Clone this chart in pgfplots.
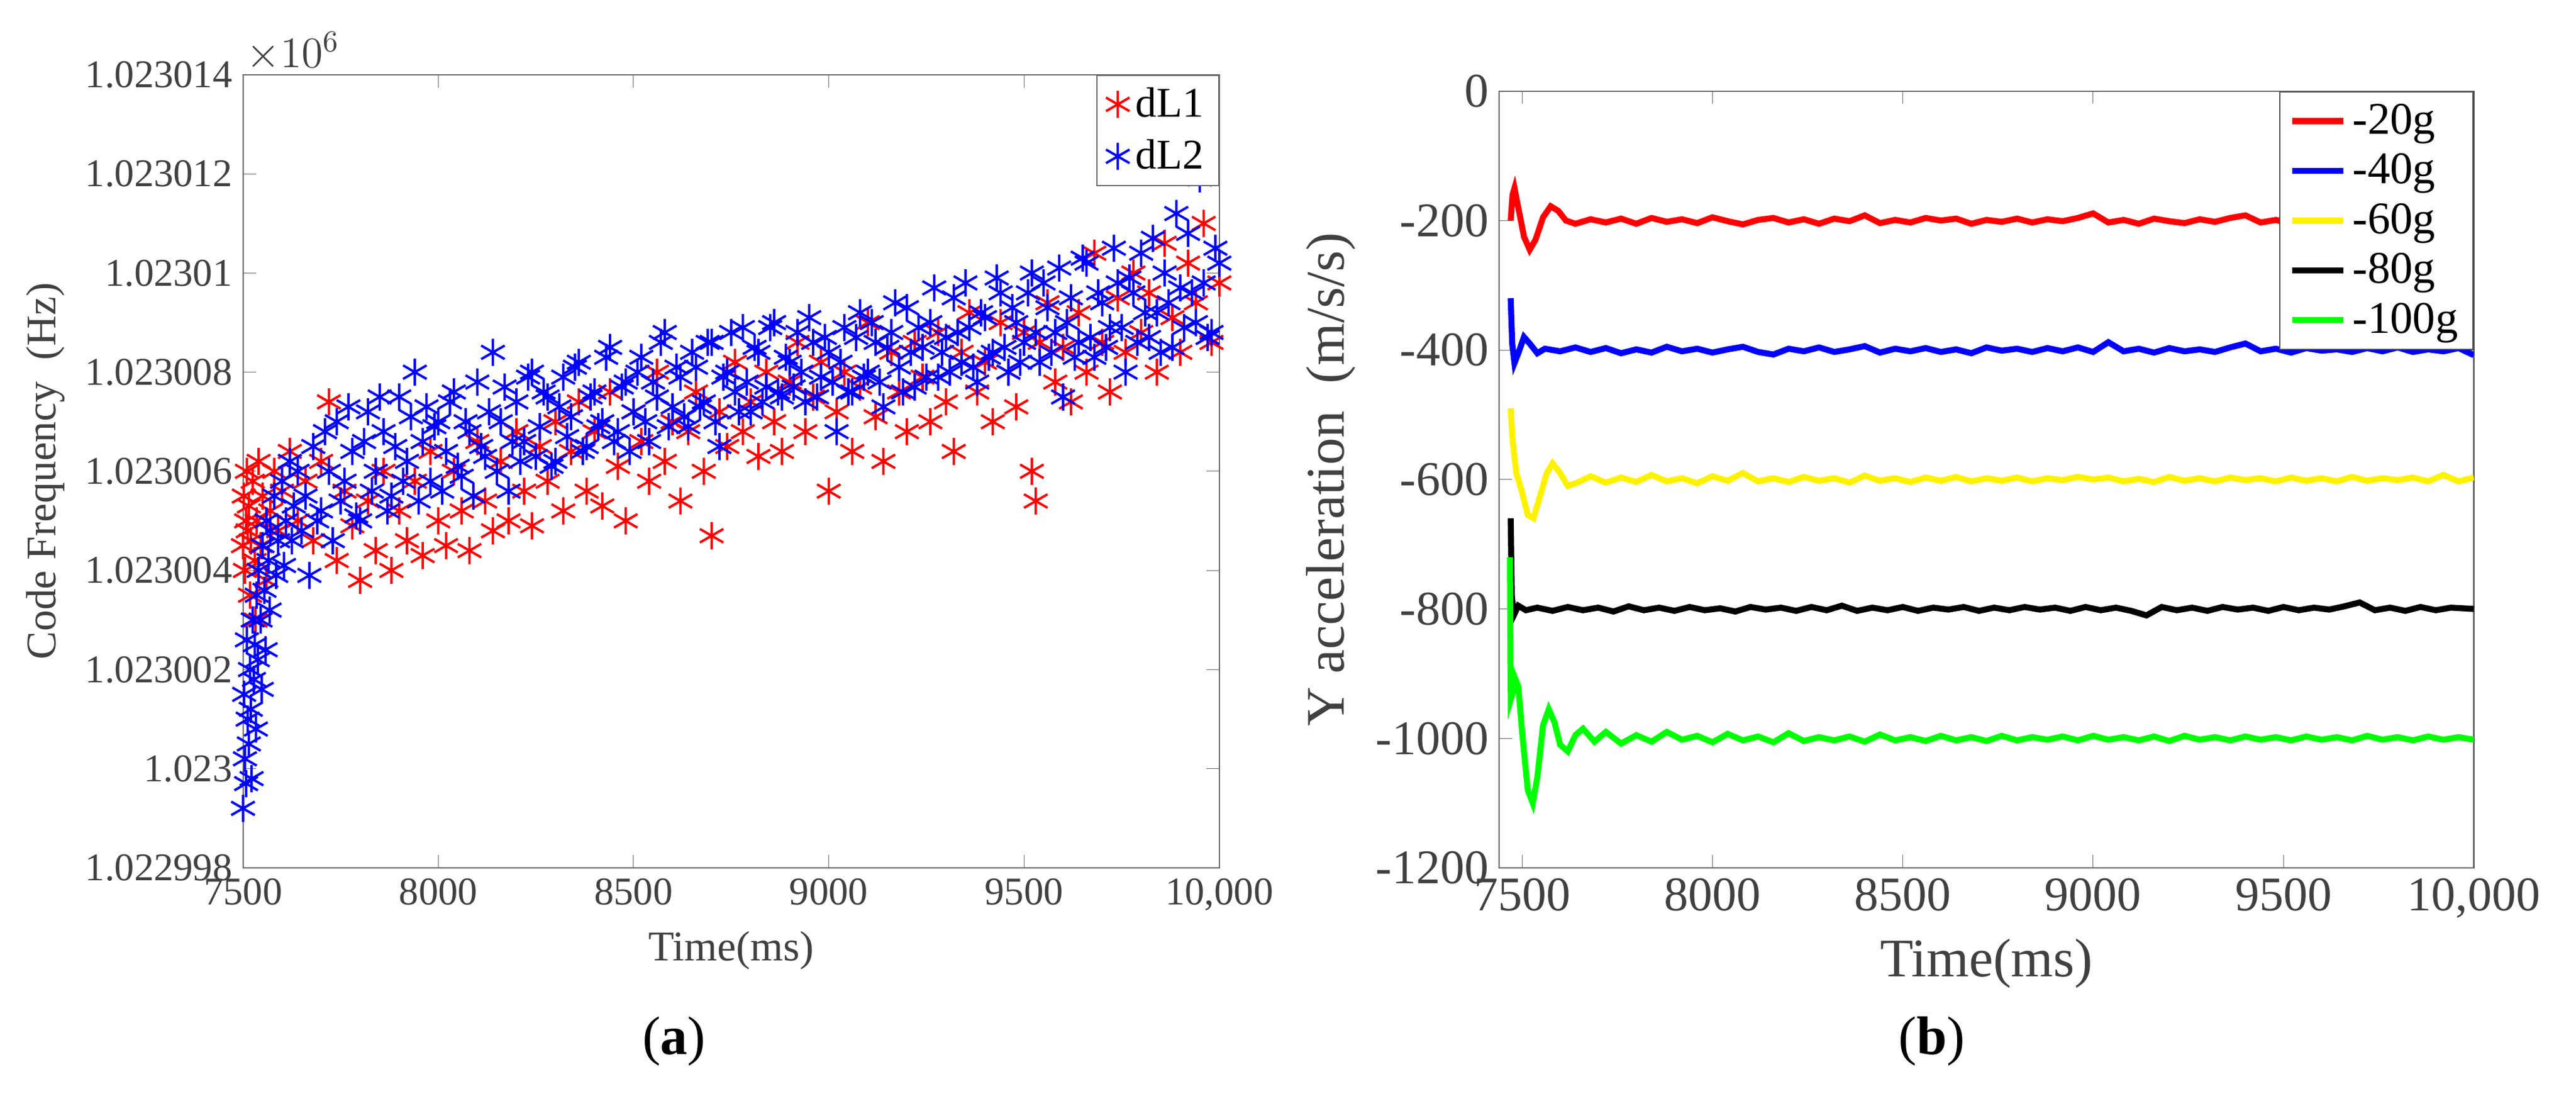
\documentclass[border=0pt]{standalone}
\usepackage{pgfplots}
\pgfplotsset{compat=1.18}
\usepackage{fontspec}
\setmainfont{Liberation Serif}
\begin{document}
\begin{tikzpicture}
\useasboundingbox (0,0) rectangle (30,12.95);
\pgfplotsset{every axis/.append style={/pgf/number format/assume math mode=true, scaled x ticks=false, scaled y ticks=false, tick align=inside, axis line style={black!60}, tick style={black!60}}}
\begin{axis}[name=A, at={(2.83cm,2.85cm)}, anchor=south west, width=11.37cm, height=9.23cm, scale only axis,
  xmin=7500, xmax=10000, ymin=-2, ymax=14,
  xtick={7500,8000,8500,9000,9500,10000}, xticklabels={7500,8000,8500,9000,9500,{10,000}},
  ytick={-2,0,2,4,6,8,10,12,14},
  yticklabels={1.022998,1.023,1.023002,1.023004,1.023006,1.023008,1.02301,1.023012,1.023014},
  ticklabel style={font=\fontsize{13}{15}\selectfont, text=black!75},
  xlabel={Time(ms)}, ylabel={Code Frequency\ \ (Hz)},
  label style={font=\fontsize{14}{16}\selectfont, text=black!75},
  legend style={at={(1,1)}, anchor=north east, font=\fontsize{14}{16}\selectfont, draw=black!60, row sep=2pt},
  legend cell align=left]
\addplot[only marks, mark=asterisk, mark size=4.5pt, red, thick] table {
7500 4.5
7502 5.5
7505 4.0
7508 5.0
7510 6.0
7512 4.8
7515 5.3
7518 3.5
7520 4.6
7525 5.8
7530 4.2
7532 3.0
7535 5.0
7540 6.2
7545 4.5
7550 5.5
7560 3.8
7570 5.2
7580 6.0
7590 4.8
7600 5.6
7620 6.4
7640 5.0
7660 5.8
7680 4.6
7700 6.2
7720 7.4
7740 4.2
7760 5.6
7780 4.9
7800 3.8
7820 5.4
7840 4.4
7860 6.0
7880 4.0
7900 5.2
7920 4.6
7940 5.8
7960 4.3
7980 6.4
8000 5.0
8020 4.5
8040 6.0
8060 5.2
8080 4.4
8100 6.6
8120 5.4
8140 4.8
8160 6.2
8180 5.0
8200 6.8
8220 5.6
8240 4.9
8260 6.5
8280 5.8
8300 7.0
8320 5.2
8340 6.4
8360 7.4
8380 5.6
8400 6.8
8420 5.3
8440 7.6
8460 6.1
8480 5.0
8500 7.2
8520 6.6
8540 5.8
8560 8.0
8580 6.2
8600 7.0
8620 5.4
8640 6.8
8660 7.6
8680 6.0
8700 4.7
8720 7.2
8740 6.5
8760 8.2
8780 6.8
8800 7.4
8820 6.3
8840 8.0
8860 7.0
8880 6.4
8900 7.8
8920 8.6
8940 6.8
8960 7.5
8980 8.2
9000 5.6
9020 7.2
9040 8.0
9060 6.4
9080 7.7
9100 9.0
9120 7.1
9140 6.2
9160 8.4
9180 7.6
9200 6.8
9220 8.6
9240 7.9
9260 7.0
9280 8.8
9300 7.4
9320 6.4
9340 8.4
9360 9.2
9380 7.6
9400 8.2
9420 7.0
9440 9.0
9460 8.0
9480 7.3
9500 8.8
9520 6.0
9530 5.4
9540 8.6
9560 9.4
9580 7.8
9600 8.5
9620 7.4
9640 9.2
9660 8.0
9680 10.4
9700 8.6
9720 7.6
9740 9.5
9760 8.4
9780 10.0
9800 8.8
9820 9.6
9840 8.0
9860 10.6
9880 9.1
9900 8.4
9920 10.2
9940 9.4
9960 11.0
9980 8.6
10000 9.8
};
\addlegendentry{dL1}
\addplot[only marks, mark=asterisk, mark size=4.5pt, blue, thick] table {
7500 -0.8
7503 1.5
7505 0.2
7508 -0.3
7510 2.6
7512 1.0
7515 0.5
7518 2.0
7520 1.2
7522 -0.2
7525 3.0
7528 1.8
7530 2.5
7533 0.8
7535 3.5
7538 2.2
7540 4.0
7545 3.0
7548 1.6
7550 4.5
7555 3.6
7558 2.4
7560 5.0
7565 4.2
7568 3.2
7570 4.8
7580 5.5
7585 3.9
7590 4.6
7600 5.8
7605 4.1
7610 5.0
7620 6.2
7625 4.6
7630 5.3
7640 6.0
7650 4.8
7660 5.5
7670 3.9
7680 6.5
7690 5.0
7700 5.2
7710 6.8
7720 6.0
7730 4.6
7740 7.0
7750 5.4
7760 5.8
7770 7.3
7780 6.4
7790 5.1
7800 5.0
7810 6.6
7820 7.2
7830 5.6
7840 6.0
7850 7.5
7860 6.8
7870 5.2
7880 5.5
7890 6.5
7900 7.5
7910 5.8
7920 6.2
7930 7.1
7940 8.0
7950 5.4
7960 6.6
7970 7.3
7980 5.8
7990 6.9
8000 7.0
8010 5.6
8020 6.4
8030 7.4
8040 7.6
8050 6.1
8060 5.9
8070 7.0
8080 6.8
8090 5.5
8100 7.8
8110 6.5
8120 6.3
8130 7.2
8140 8.4
8150 6.0
8160 7.0
8170 7.7
8180 5.6
8190 6.6
8200 7.4
8210 6.2
8220 6.6
8230 7.9
8240 8.0
8250 6.3
8260 6.9
8270 7.6
8280 7.5
8290 6.1
8300 6.2
8310 7.3
8320 7.9
8330 6.7
8340 7.1
8350 8.1
8360 8.2
8370 6.4
8380 6.5
8390 7.5
8400 7.6
8410 6.9
8420 7.0
8430 8.3
8440 8.5
8450 6.6
8460 6.8
8470 7.7
8480 7.8
8490 6.4
8500 7.2
8510 8.0
8520 8.3
8530 7.0
8540 6.6
8550 7.8
8560 7.5
8570 8.6
8580 8.8
8590 6.9
8600 7.3
8610 8.1
8620 7.9
8630 7.1
8640 6.9
8650 8.4
8660 8.1
8670 7.3
8680 7.4
8690 8.6
8700 8.6
8710 7.0
8720 6.5
8730 7.9
8740 8.0
8750 8.8
8760 7.6
8770 7.2
8780 8.9
8790 7.8
8800 7.2
8810 8.5
8820 8.4
8830 7.4
8840 7.7
8850 8.9
8860 9.0
8870 7.6
8880 7.5
8890 8.3
8900 8.2
8910 7.7
8920 8.8
8930 8.0
8940 7.4
8950 9.1
8960 8.6
8970 7.5
8980 7.9
8990 8.7
9000 8.4
9010 7.8
9020 6.8
9030 8.2
9040 8.9
9050 7.6
9060 7.6
9070 8.7
9080 9.2
9090 7.9
9100 8.0
9110 9.0
9120 8.6
9130 7.8
9140 7.3
9150 8.5
9160 8.8
9170 9.4
9180 8.1
9190 7.6
9200 9.3
9210 8.4
9220 7.7
9230 8.9
9240 8.5
9250 7.9
9260 9.0
9270 9.7
9280 7.9
9290 8.4
9300 8.7
9310 8.0
9320 9.5
9330 8.8
9340 8.2
9350 9.8
9360 8.9
9370 8.1
9380 7.8
9390 9.2
9400 9.1
9410 8.3
9420 8.4
9430 9.9
9440 9.6
9450 8.5
9460 8.0
9470 9.3
9480 9.0
9490 8.2
9500 8.6
9510 9.6
9520 10.0
9530 8.8
9540 8.2
9550 9.8
9560 9.3
9570 8.4
9580 8.8
9590 10.1
9600 7.5
9610 9.0
9620 9.5
9630 8.3
9640 8.6
9650 10.3
9660 10.2
9670 8.7
9680 8.3
9690 9.6
9700 9.4
9710 8.5
9720 8.9
9730 10.5
9740 9.8
9750 8.9
9760 8.0
9770 9.9
9780 9.6
9790 8.6
9800 10.4
9810 9.2
9820 8.7
9830 10.7
9840 9.2
9850 8.4
9860 10.0
9870 9.4
9880 8.5
9890 11.2
9900 9.7
9910 8.9
9920 10.8
9930 9.6
9940 9.0
9950 11.9
9960 9.8
9970 8.7
9980 8.8
9990 10.5
10000 10.2
};
\addlegendentry{dL2}
\end{axis}
\node[anchor=south west, font=\fontsize{14}{16}\selectfont, text=black!75, inner sep=1pt] at (A.north west) {$\times 10^6$};

\begin{axis}[at={(17.46cm,2.85cm)}, anchor=south west, width=11.35cm, height=9.04cm, scale only axis,
  xmin=7440, xmax=10000, ymin=-1200, ymax=0,
  xtick={7500,8000,8500,9000,9500,10000}, xticklabels={7500,8000,8500,9000,9500,{10,000}},
  ytick={-1200,-1000,-800,-600,-400,-200,0},
  yticklabels={-1200,-1000,-800,-600,-400,-200,0},
  ticklabel style={font=\fontsize{16}{18}\selectfont, text=black!75},
  xlabel={Time(ms)}, ylabel={Y acceleration\ \ (m/s/s)},
  label style={font=\fontsize{18}{20}\selectfont, text=black!75},
  legend style={at={(1,1)}, anchor=north east, font=\fontsize{15}{17}\selectfont, draw=black!70, row sep=1pt},
  legend cell align=left, every axis plot/.append style={line width=2pt}]
\addplot[red] coordinates {(7470,-200)(7475,-160)(7480,-150)(7490,-180)(7505,-225)(7520,-245)(7535,-230)(7555,-195)(7575,-178)(7595,-185)(7615,-200)(7640,-205)(7680,-198)(7720,-203)(7760,-197)(7800,-205)(7840,-196)(7880,-202)(7920,-198)(7960,-204)(8000,-195)(8040,-201)(8080,-206)(8120,-199)(8160,-196)(8200,-203)(8240,-198)(8280,-205)(8320,-197)(8360,-201)(8400,-192)(8440,-204)(8480,-199)(8520,-203)(8560,-196)(8600,-200)(8640,-197)(8680,-205)(8720,-199)(8760,-202)(8800,-197)(8840,-203)(8880,-198)(8920,-201)(8960,-196)(9000,-189)(9040,-203)(9080,-199)(9120,-205)(9160,-197)(9200,-201)(9240,-204)(9280,-198)(9320,-202)(9360,-196)(9400,-192)(9440,-203)(9480,-199)(9520,-205)(9560,-197)(9600,-201)(9640,-198)(9680,-204)(9720,-199)(9760,-203)(9800,-196)(9840,-201)(9880,-205)(9920,-198)(9960,-202)(10000,-200)};
\addlegendentry{-20g}
\addplot[blue] coordinates {(7470,-320)(7474,-390)(7480,-420)(7490,-405)(7505,-380)(7520,-390)(7540,-405)(7560,-398)(7600,-402)(7640,-396)(7680,-403)(7720,-397)(7760,-405)(7800,-399)(7840,-404)(7880,-395)(7920,-402)(7960,-398)(8000,-404)(8040,-399)(8080,-395)(8120,-403)(8160,-407)(8200,-398)(8240,-402)(8280,-396)(8320,-403)(8360,-399)(8400,-394)(8440,-404)(8480,-398)(8520,-402)(8560,-397)(8600,-403)(8640,-399)(8680,-405)(8720,-396)(8760,-401)(8800,-398)(8840,-403)(8880,-397)(8920,-402)(8960,-396)(9000,-403)(9040,-388)(9080,-402)(9120,-398)(9160,-404)(9200,-397)(9240,-402)(9280,-399)(9320,-403)(9360,-396)(9400,-390)(9440,-402)(9480,-398)(9520,-404)(9560,-397)(9600,-401)(9640,-399)(9680,-403)(9720,-397)(9760,-402)(9800,-396)(9840,-403)(9880,-399)(9920,-402)(9960,-397)(10000,-408)};
\addlegendentry{-40g}
\addplot[yellow] coordinates {(7470,-490)(7475,-540)(7485,-590)(7500,-620)(7515,-655)(7530,-660)(7545,-630)(7565,-590)(7580,-575)(7600,-590)(7620,-610)(7645,-605)(7680,-595)(7720,-605)(7760,-597)(7800,-604)(7840,-593)(7880,-603)(7920,-598)(7960,-606)(8000,-595)(8040,-602)(8080,-590)(8120,-603)(8160,-598)(8200,-604)(8240,-596)(8280,-602)(8320,-598)(8360,-605)(8400,-594)(8440,-602)(8480,-598)(8520,-604)(8560,-597)(8600,-602)(8640,-596)(8680,-603)(8720,-598)(8760,-602)(8800,-597)(8840,-603)(8880,-598)(8920,-601)(8960,-596)(9000,-600)(9040,-597)(9080,-603)(9120,-599)(9160,-604)(9200,-596)(9240,-602)(9280,-598)(9320,-603)(9360,-597)(9400,-601)(9440,-598)(9480,-603)(9520,-597)(9560,-602)(9600,-598)(9640,-603)(9680,-596)(9720,-602)(9760,-598)(9800,-601)(9840,-597)(9880,-603)(9920,-593)(9960,-603)(10000,-597)};
\addlegendentry{-60g}
\addplot[black] coordinates {(7470,-660)(7473,-780)(7478,-810)(7490,-795)(7510,-802)(7540,-798)(7580,-803)(7620,-797)(7660,-802)(7700,-798)(7740,-804)(7780,-796)(7820,-802)(7860,-798)(7900,-803)(7940,-797)(7980,-802)(8020,-799)(8060,-804)(8100,-797)(8140,-801)(8180,-798)(8220,-803)(8260,-797)(8300,-802)(8340,-795)(8380,-803)(8420,-798)(8460,-802)(8500,-797)(8540,-803)(8580,-798)(8620,-801)(8660,-797)(8700,-803)(8740,-798)(8780,-802)(8820,-797)(8860,-801)(8900,-798)(8940,-803)(8980,-797)(9020,-802)(9060,-798)(9100,-803)(9140,-810)(9180,-797)(9220,-802)(9260,-798)(9300,-803)(9340,-797)(9380,-801)(9420,-798)(9460,-803)(9500,-797)(9540,-802)(9580,-798)(9620,-801)(9660,-796)(9700,-790)(9740,-802)(9780,-798)(9820,-803)(9860,-797)(9900,-802)(9940,-798)(10000,-800)};
\addlegendentry{-80g}
\addplot[green] coordinates {(7468,-720)(7470,-940)(7475,-930)(7480,-905)(7490,-920)(7500,-990)(7515,-1080)(7528,-1100)(7540,-1060)(7555,-980)(7570,-955)(7585,-975)(7600,-1010)(7620,-1020)(7640,-995)(7660,-985)(7690,-1005)(7720,-990)(7760,-1008)(7800,-995)(7840,-1005)(7880,-990)(7920,-1002)(7960,-996)(8000,-1006)(8040,-993)(8080,-1003)(8120,-997)(8160,-1006)(8200,-992)(8240,-1004)(8280,-998)(8320,-1003)(8360,-997)(8400,-1005)(8440,-994)(8480,-1003)(8520,-998)(8560,-1004)(8600,-996)(8640,-1003)(8680,-998)(8720,-1004)(8760,-996)(8800,-1003)(8840,-998)(8880,-1002)(8920,-997)(8960,-1003)(9000,-996)(9040,-1002)(9080,-998)(9120,-1003)(9160,-997)(9200,-1004)(9240,-996)(9280,-1002)(9320,-998)(9360,-1003)(9400,-997)(9440,-1002)(9480,-998)(9520,-1003)(9560,-997)(9600,-1002)(9640,-998)(9680,-1003)(9720,-996)(9760,-1002)(9800,-998)(9840,-1003)(9880,-997)(9920,-1002)(9960,-998)(10000,-1002)};
\addlegendentry{-100g}
\end{axis}
\node[font=\fontsize{18}{20}\selectfont] at (7.85,0.83) {(\textbf{a})};
\node[font=\fontsize{18}{20}\selectfont] at (22.5,0.83) {(\textbf{b})};
\end{tikzpicture}
\end{document}
